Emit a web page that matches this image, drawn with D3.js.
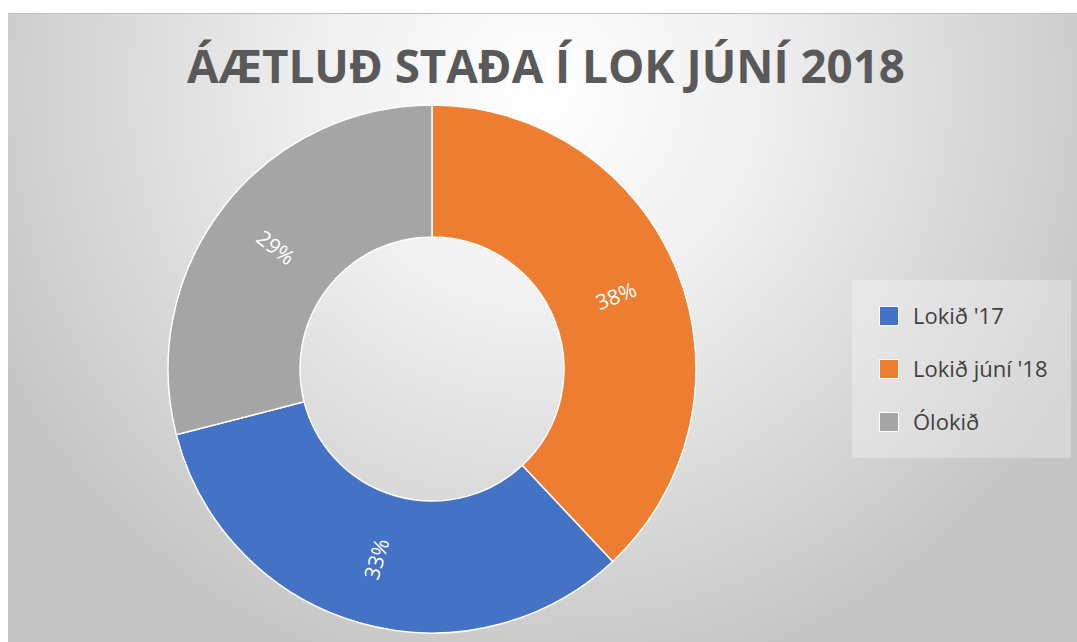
<!DOCTYPE html>
<html>
<head>
<meta charset="utf-8">
<script src="https://cdn.jsdelivr.net/npm/d3@7"></script>
<style>
  body { margin: 0; background: #fff; }
  svg { display: block; }
</style>
</head>
<body>
<script>
// chart data
const categories = ["Lokið '17", "Lokið júní '18", "Ólokið"];
const values = [33, 38, 29];
const colors = ["#4472C4", "#ED7D31", "#A5A5A5"];
// clockwise order of the slices, starting at 12 o'clock
const sliceOrder = [1, 0, 2];
const title = "ÁÆTLUÐ STAÐA Í LOK JÚNÍ 2018";

const width = 1077, height = 642;
const svg = d3.select("body").append("svg")
  .attr("width", width)
  .attr("height", height);

const defs = svg.append("defs");
const grad = defs.append("radialGradient")
  .attr("id", "bg")
  .attr("gradientUnits", "userSpaceOnUse")
  .attr("cx", 540).attr("cy", 90).attr("r", 620)
  .attr("fx", 540).attr("fy", 90);
grad.append("stop").attr("offset", 0).attr("stop-color", "#ffffff");
grad.append("stop").attr("offset", 0.35).attr("stop-color", "#f0f0f0");
grad.append("stop").attr("offset", 1).attr("stop-color", "#c4c4c4");

// chart area
svg.append("rect")
  .attr("x", 8).attr("y", 13)
  .attr("width", width - 8).attr("height", height - 13)
  .attr("fill", "url(#bg)");
svg.append("line")
  .attr("x1", 8).attr("x2", width).attr("y1", 13.5).attr("y2", 13.5)
  .attr("stroke", "#c2c2c2");

svg.append("text")
  .attr("x", 546).attr("y", 83)
  .attr("text-anchor", "middle")
  .attr("font-family", "'Open Sans', sans-serif")
  .attr("font-weight", 700)
  .attr("font-size", 46)
  .attr("textLength", 718)
  .attr("lengthAdjust", "spacingAndGlyphs")
  .attr("fill", "#595959")
  .text(title);

// donut
const cx = 432, cy = 369, outerR = 264, innerR = 132;
const pie = d3.pie()
  .value(i => values[i])
  .sort((a, b) => sliceOrder.indexOf(a) - sliceOrder.indexOf(b));
const arc = d3.arc().innerRadius(innerR).outerRadius(outerR);
const arcs = pie(d3.range(values.length));

const g = svg.append("g").attr("transform", `translate(${cx},${cy})`);
g.selectAll("path")
  .data(arcs)
  .join("path")
  .attr("d", arc)
  .attr("fill", d => colors[d.data])
  .attr("stroke", "#ffffff")
  .attr("stroke-width", 1.5);

g.selectAll("text")
  .data(arcs)
  .join("text")
  .attr("transform", d => {
    const [x, y] = arc.centroid(d);
    let rot = (d.startAngle + d.endAngle) / 2 * 180 / Math.PI - 90;
    if (rot > 90) rot -= 180;
    if (rot < -90) rot += 180;
    return `translate(${x},${y}) rotate(${rot})`;
  })
  .attr("text-anchor", "middle")
  .attr("dy", "0.35em")
  .attr("font-family", "'Open Sans', sans-serif")
  .attr("font-size", 21)
  .attr("fill", "#ffffff")
  .text(d => values[d.data] + "%");

// legend
const legend = svg.append("g");
legend.append("rect")
  .attr("x", 852).attr("y", 280)
  .attr("width", 219).attr("height", 178)
  .attr("fill", "#ffffff").attr("fill-opacity", 0.3);

const item = legend.selectAll("g.item")
  .data(categories)
  .join("g")
  .attr("class", "item")
  .attr("transform", (d, i) => `translate(879,${316 + i * 53})`);
item.append("rect")
  .attr("x", 0.5).attr("y", -9.5)
  .attr("width", 19).attr("height", 19)
  .attr("fill", (d, i) => colors[i])
  .attr("stroke", "#ffffff")
  .attr("stroke-width", 1);
item.append("text")
  .attr("x", 34).attr("y", 0)
  .attr("dy", "0.35em")
  .attr("font-family", "'Open Sans', sans-serif")
  .attr("font-size", 22)
  .attr("fill", "#404040")
  .text(d => d);
</script>
</body>
</html>
